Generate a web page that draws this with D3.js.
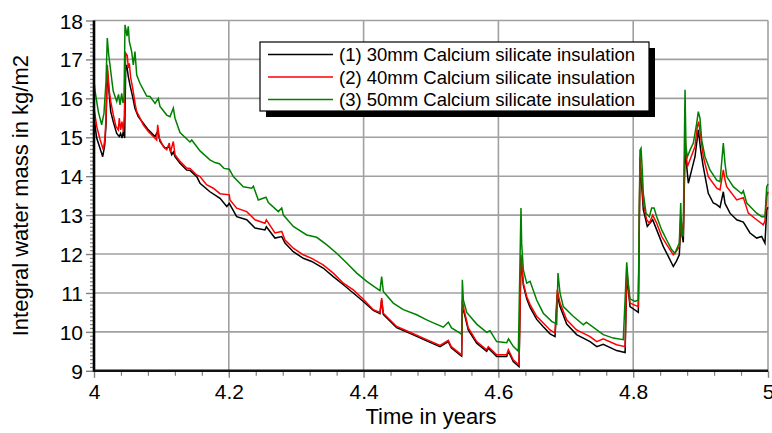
<!DOCTYPE html>
<html>
<head>
<meta charset="utf-8">
<script src="https://cdn.jsdelivr.net/npm/d3@7/dist/d3.min.js"></script>
<style>
  html, body { margin: 0; padding: 0; background: #fff; }
  svg { display: block; font-family: "Liberation Sans", Arial, sans-serif; }
</style>
</head>
<body>
<svg id="chart" width="772" height="433"></svg>
<script>
// Integral water mass over the fifth year, three insulation thicknesses.
// Each series is a list of [time in years, water mass in kg/m2].
const series30mm = [
  [4.000, 15.5], [4.004, 14.98], [4.0089, 14.72], [4.0129, 14.5], [4.0159, 14.8], [4.0178, 15.32],
  [4.0197, 16.73], [4.0218, 16.26], [4.0248, 15.66], [4.0286, 15.4], [4.0337, 15.1], [4.0375, 15.02],
  [4.0395, 15.1], [4.0415, 14.98], [4.0435, 15.15], [4.0455, 14.98], [4.047, 16.78], [4.0485, 16.86],
  [4.0509, 16.56], [4.0534, 16.34], [4.0574, 16.04], [4.0608, 15.74], [4.0657, 15.53], [4.0731, 15.36],
  [4.0806, 15.19], [4.0905, 15.02], [4.0945, 15.15], [4.0979, 14.89], [4.1053, 14.72], [4.1117, 14.75],
  [4.1153, 14.55], [4.1177, 14.62], [4.1202, 14.5], [4.1276, 14.33], [4.1375, 14.16], [4.1424, 14.15],
  [4.1524, 13.99], [4.1573, 13.82], [4.172, 13.6], [4.187, 13.43], [4.197, 13.22], [4.2007, 13.3],
  [4.2117, 12.96], [4.2266, 12.88], [4.2389, 12.67], [4.2537, 12.62], [4.2557, 12.7], [4.2685, 12.41],
  [4.2785, 12.45], [4.2834, 12.28], [4.2957, 12.06], [4.3105, 11.89], [4.323, 11.81], [4.34, 11.64],
  [4.355, 11.42], [4.37, 11.21], [4.3847, 11.0], [4.3996, 10.78], [4.4144, 10.55], [4.4243, 10.47],
  [4.4268, 10.82], [4.4292, 10.45], [4.449, 10.11], [4.4688, 9.96], [4.4936, 9.77], [4.5134, 9.62],
  [4.5257, 9.75], [4.53, 9.59], [4.543, 9.41], [4.5455, 9.38], [4.5465, 10.6], [4.549, 10.5],
  [4.5553, 10.05], [4.5678, 9.71], [4.5826, 9.5], [4.585, 9.58], [4.5974, 9.37], [4.6123, 9.37],
  [4.6148, 9.5], [4.622, 9.24], [4.6306, 9.11], [4.6335, 11.9], [4.637, 11.2], [4.642, 10.85],
  [4.647, 10.63], [4.6568, 10.32], [4.6666, 10.13], [4.6766, 9.95], [4.684, 9.88], [4.6874, 10.95],
  [4.6914, 10.65], [4.7013, 10.2], [4.716, 9.93], [4.736, 9.75], [4.746, 9.62], [4.7555, 9.68],
  [4.7754, 9.52], [4.788, 9.47], [4.7904, 11.45], [4.7953, 10.65], [4.8076, 10.5], [4.8101, 14.33],
  [4.8127, 13.73], [4.815, 13.14], [4.8209, 12.71], [4.8289, 12.88], [4.8349, 12.62], [4.8447, 12.19],
  [4.8521, 11.94], [4.8595, 11.68], [4.864, 11.81], [4.8684, 11.98], [4.8705, 12.7], [4.8743, 12.3],
  [4.8769, 14.7], [4.8818, 13.82], [4.8843, 13.99], [4.8917, 14.5], [4.8966, 15.19], [4.9001, 14.67],
  [4.904, 14.24], [4.9114, 13.56], [4.9188, 13.31], [4.9239, 13.27], [4.9288, 13.2], [4.9337, 13.6],
  [4.9362, 13.3], [4.9436, 13.05], [4.9536, 12.88], [4.9634, 12.82], [4.9733, 12.54], [4.9832, 12.41],
  [4.9906, 12.45], [4.9955, 12.28], [4.9981, 13.14], [5.0, 13.2]
];

const series40mm = [
  [4.000, 15.75], [4.004, 15.28], [4.0089, 14.95], [4.0138, 14.68], [4.0163, 14.98], [4.0178, 15.5],
  [4.0197, 16.86], [4.0227, 16.18], [4.0248, 15.92], [4.0286, 15.58], [4.0326, 15.28], [4.0361, 15.19],
  [4.0375, 15.49], [4.0395, 15.19], [4.0415, 15.4], [4.0435, 15.15], [4.045, 15.58], [4.047, 17.16],
  [4.0494, 17.1], [4.0509, 16.78], [4.0524, 16.9], [4.0545, 16.52], [4.0574, 16.26], [4.0613, 15.83],
  [4.0634, 15.66], [4.0683, 15.49], [4.0731, 15.32], [4.0806, 15.15], [4.088, 15.02], [4.093, 14.93],
  [4.0945, 15.32], [4.0969, 14.98], [4.1028, 14.76], [4.1079, 14.68], [4.1117, 14.85], [4.1135, 14.62],
  [4.1177, 14.89], [4.1202, 14.55], [4.1276, 14.38], [4.1375, 14.21], [4.1424, 14.2], [4.1524, 14.03],
  [4.1573, 13.99], [4.167, 13.78], [4.177, 13.69], [4.187, 13.55], [4.2007, 13.52], [4.2017, 13.39],
  [4.2117, 13.18], [4.2266, 13.09], [4.2389, 12.88], [4.2537, 12.79], [4.2557, 12.88], [4.2685, 12.54],
  [4.2785, 12.58], [4.2834, 12.36], [4.2957, 12.15], [4.3105, 11.98], [4.323, 11.89], [4.34, 11.72],
  [4.355, 11.51], [4.37, 11.25], [4.3847, 11.08], [4.3996, 10.84], [4.4144, 10.57], [4.4243, 10.5],
  [4.4268, 10.87], [4.4292, 10.48], [4.449, 10.14], [4.4688, 9.99], [4.4936, 9.8], [4.5134, 9.65],
  [4.5257, 9.78], [4.53, 9.62], [4.543, 9.44], [4.5455, 9.41], [4.5465, 10.82], [4.549, 10.57],
  [4.5553, 10.1], [4.5678, 9.75], [4.5826, 9.54], [4.585, 9.62], [4.5974, 9.41], [4.6123, 9.41],
  [4.6148, 9.54], [4.622, 9.28], [4.6306, 9.15], [4.6335, 11.98], [4.637, 11.25], [4.642, 10.91],
  [4.647, 10.7], [4.6568, 10.4], [4.6666, 10.23], [4.6766, 10.05], [4.684, 9.97], [4.6874, 11.08],
  [4.6914, 10.74], [4.7013, 10.31], [4.716, 10.05], [4.736, 9.88], [4.746, 9.75], [4.7555, 9.82],
  [4.7754, 9.67], [4.788, 9.62], [4.7904, 11.6], [4.7953, 10.74], [4.8076, 10.65], [4.8101, 14.5],
  [4.8127, 13.9], [4.815, 13.31], [4.82, 12.88], [4.8239, 12.79], [4.8289, 13.0], [4.8349, 12.79],
  [4.8423, 12.45], [4.8497, 12.24], [4.8595, 11.98], [4.864, 12.07], [4.8684, 12.19], [4.8705, 12.96],
  [4.8743, 12.45], [4.8769, 15.0], [4.8803, 14.24], [4.8843, 14.42], [4.8917, 14.76], [4.8951, 15.27],
  [4.8972, 15.4], [4.9001, 15.02], [4.904, 14.5], [4.9114, 13.99], [4.9239, 13.69], [4.9288, 13.65],
  [4.9337, 14.16], [4.9362, 13.9], [4.9387, 13.73], [4.9536, 13.39], [4.9634, 13.45], [4.9708, 13.05],
  [4.9832, 12.88], [4.993, 12.75], [4.9955, 12.85], [4.9981, 13.48], [5.0, 13.6]
];

const series50mm = [
  [4.000, 16.45], [4.0015, 16.2], [4.0064, 15.66], [4.0114, 15.32], [4.0148, 15.62], [4.0178, 16.43],
  [4.0197, 17.55], [4.0218, 17.12], [4.0237, 16.86], [4.0267, 16.43], [4.0286, 16.18], [4.0337, 15.92],
  [4.0364, 16.1], [4.0386, 15.83], [4.0411, 16.13], [4.043, 15.88], [4.0445, 16.0], [4.046, 17.89],
  [4.0475, 17.76], [4.049, 17.6], [4.0509, 17.85], [4.0524, 17.46], [4.0559, 17.2], [4.0583, 16.86],
  [4.0608, 17.2], [4.0634, 16.6], [4.0683, 16.38], [4.0782, 16.06], [4.0831, 16.05], [4.0905, 15.87],
  [4.0954, 16.0], [4.0979, 15.79], [4.1079, 15.57], [4.1128, 15.53], [4.1177, 15.75], [4.1202, 15.49],
  [4.1276, 15.12], [4.1424, 14.88], [4.145, 14.93], [4.1573, 14.65], [4.172, 14.42], [4.1795, 14.35],
  [4.186, 14.32], [4.1929, 14.2], [4.2007, 14.18], [4.2067, 13.99], [4.2215, 13.73], [4.234, 13.69],
  [4.2365, 13.74], [4.2438, 13.39], [4.2552, 13.46], [4.2587, 13.32], [4.2735, 13.09], [4.2785, 13.18],
  [4.281, 13.0], [4.2957, 12.71], [4.3156, 12.49], [4.3304, 12.43], [4.345, 12.24], [4.36, 12.02],
  [4.375, 11.77], [4.3898, 11.51], [4.4046, 11.3], [4.4194, 11.12], [4.4243, 11.06], [4.4268, 11.42],
  [4.4292, 11.04], [4.444, 10.74], [4.4589, 10.57], [4.4788, 10.44], [4.4936, 10.31], [4.5035, 10.23],
  [4.5183, 10.12], [4.5257, 10.25], [4.5305, 10.1], [4.543, 9.97], [4.5455, 9.93], [4.5465, 11.34],
  [4.548, 10.82], [4.553, 10.5], [4.5678, 10.2], [4.5826, 9.99], [4.5875, 10.03], [4.5974, 9.75],
  [4.6123, 9.72], [4.615, 9.82], [4.622, 9.63], [4.6296, 9.5], [4.6335, 13.18], [4.6345, 12.28],
  [4.637, 11.59], [4.642, 11.25], [4.647, 11.3], [4.6568, 10.82], [4.6666, 10.48], [4.679, 10.27],
  [4.6865, 10.2], [4.6884, 11.51], [4.6914, 11.0], [4.6963, 10.65], [4.711, 10.4], [4.726, 10.18],
  [4.7305, 10.25], [4.7556, 9.93], [4.7705, 9.84], [4.7853, 9.8], [4.7904, 11.79], [4.7927, 11.25],
  [4.7953, 10.85], [4.8027, 10.78], [4.8076, 10.82], [4.8101, 14.67], [4.8116, 14.72], [4.8135, 14.16],
  [4.815, 13.56], [4.819, 13.05], [4.8239, 12.96], [4.8274, 13.18], [4.8309, 13.18], [4.8349, 12.96],
  [4.8423, 12.62], [4.8497, 12.36], [4.8571, 12.11], [4.862, 12.02], [4.864, 12.11], [4.8684, 12.28],
  [4.8705, 13.31], [4.872, 12.45], [4.8743, 12.62], [4.8769, 16.22], [4.8783, 14.76], [4.8803, 14.5],
  [4.8843, 14.67], [4.8892, 14.85], [4.8942, 15.36], [4.8966, 15.66], [4.8991, 15.49], [4.9016, 14.93],
  [4.9065, 14.5], [4.9139, 14.16], [4.9239, 13.9], [4.9288, 13.86], [4.9337, 14.85], [4.9362, 14.33],
  [4.9387, 13.99], [4.9485, 13.73], [4.961, 13.55], [4.9634, 13.62], [4.9684, 13.31], [4.9832, 13.05],
  [4.9906, 12.96], [4.9955, 12.96], [4.9981, 13.73], [5.0, 13.8]
];

const seriesLabels = [
  "(1) 30mm Calcium silicate insulation",
  "(2) 40mm Calcium silicate insulation",
  "(3) 50mm Calcium silicate insulation"
];
const xTickValues = [4, 4.2, 4.4, 4.6, 4.8, 5];
const yTickValues = [9, 10, 11, 12, 13, 14, 15, 16, 17, 18];
const xTitle = "Time in years";
const yTitle = "Integral water mass in kg/m2";

const allSeries = [series30mm, series40mm, series50mm];
const seriesColors = ["#000000", "#ff0000", "#008000"];

const svg = d3.select("#chart");
const plot = { left: 94, right: 768, top: 20.5, bottom: 370.8 };

const x = d3.scaleLinear().domain([4, 5]).range([plot.left, plot.right]);
const y = d3.scaleLinear().domain([9, 18]).range([plot.bottom, plot.top]);

const gridColor = "#a0a0a0";

// grid lines at the major ticks
svg.append("g")
  .selectAll("line.hgrid")
  .data(yTickValues)
  .join("line")
  .attr("x1", plot.left).attr("x2", plot.right)
  .attr("y1", d => y(d)).attr("y2", d => y(d))
  .attr("stroke", gridColor).attr("stroke-width", 1.6);

svg.append("g")
  .selectAll("line.vgrid")
  .data(xTickValues.slice(1))
  .join("line")
  .attr("x1", d => x(d)).attr("x2", d => x(d))
  .attr("y1", plot.top).attr("y2", plot.bottom)
  .attr("stroke", gridColor).attr("stroke-width", 1.6);

// minor ticks
const yMinor = d3.range(90, 181).map(d => d / 10).filter(d => Math.abs(d - Math.round(d)) > 1e-6);
const xMinor = d3.range(100, 126).map(d => d / 25).filter(d => !xTickValues.some(t => Math.abs(t - d) < 1e-6));

const yMinorAxis = svg.append("g")
  .attr("transform", `translate(${plot.left},0)`)
  .call(d3.axisLeft(y).tickValues(yMinor).tickSize(4).tickFormat(""));
const xMinorAxis = svg.append("g")
  .attr("transform", `translate(0,${plot.bottom})`)
  .call(d3.axisBottom(x).tickValues(xMinor).tickSize(5).tickFormat(""));
[yMinorAxis, xMinorAxis].forEach(g => {
  g.select(".domain").remove();
  g.selectAll(".tick line").attr("stroke", "#808080").attr("stroke-width", 1.2);
});

// major axes
const yAxis = svg.append("g")
  .attr("transform", `translate(${plot.left},0)`)
  .call(d3.axisLeft(y).tickValues(yTickValues).tickSize(8).tickPadding(3).tickFormat(d3.format("d")));
const xAxis = svg.append("g")
  .attr("transform", `translate(0,${plot.bottom})`)
  .call(d3.axisBottom(x).tickValues(xTickValues).tickSize(7).tickPadding(6)
    .tickFormat(d => String(+d.toFixed(1))));

[yAxis, xAxis].forEach(g => {
  g.select(".domain").remove();
  g.selectAll(".tick line").attr("stroke", "#808080").attr("stroke-width", 1.4);
  g.selectAll(".tick text")
    .attr("fill", "#000")
    .style("font-family", '"Liberation Sans", Arial, sans-serif')
    .style("font-size", "21px");
});
yAxis.selectAll(".tick text").attr("dy", "0.36em");

// data lines
const line = d3.line().x(d => x(d[0])).y(d => y(d[1]));
svg.append("g")
  .selectAll("path")
  .data(allSeries)
  .join("path")
  .attr("d", line)
  .attr("fill", "none")
  .attr("stroke", (d, i) => seriesColors[i])
  .attr("stroke-width", 1.5)
  .attr("stroke-linejoin", "miter");

// thick axis lines
svg.append("line")
  .attr("x1", plot.left).attr("x2", plot.left)
  .attr("y1", plot.top).attr("y2", plot.bottom + 1)
  .attr("stroke", "#000").attr("stroke-width", 2.6);
svg.append("line")
  .attr("x1", plot.left - 1).attr("x2", plot.right)
  .attr("y1", plot.bottom).attr("y2", plot.bottom)
  .attr("stroke", "#111").attr("stroke-width", 2.6);

// axis titles
svg.append("text")
  .attr("x", (plot.left + plot.right) / 2)
  .attr("y", 424)
  .attr("text-anchor", "middle")
  .style("font-size", "22px")
  .text(xTitle);
svg.append("text")
  .attr("transform", `translate(28,${(plot.top + plot.bottom) / 2}) rotate(-90)`)
  .attr("text-anchor", "middle")
  .style("font-size", "22px")
  .text(yTitle);

// legend with drop shadow
const legend = { x: 260, y: 42, w: 389, h: 69 };
svg.append("rect")
  .attr("x", legend.x + 6).attr("y", legend.y + 6)
  .attr("width", legend.w).attr("height", legend.h)
  .attr("fill", "#000");
svg.append("rect")
  .attr("x", legend.x).attr("y", legend.y)
  .attr("width", legend.w).attr("height", legend.h)
  .attr("fill", "#fff").attr("stroke", "#000").attr("stroke-width", 1.2);

const rows = svg.append("g").selectAll("g")
  .data(seriesLabels)
  .join("g")
  .attr("transform", (d, i) => `translate(0,${legend.y + 12.5 + i * 22.5})`);
rows.append("line")
  .attr("x1", 268).attr("x2", 333)
  .attr("y1", 0).attr("y2", 0)
  .attr("stroke", (d, i) => seriesColors[i])
  .attr("stroke-width", 1.5);
rows.append("text")
  .attr("x", 339)
  .attr("dy", "0.36em")
  .style("font-size", "18.5px")
  .text(d => d);
</script>
</body>
</html>
